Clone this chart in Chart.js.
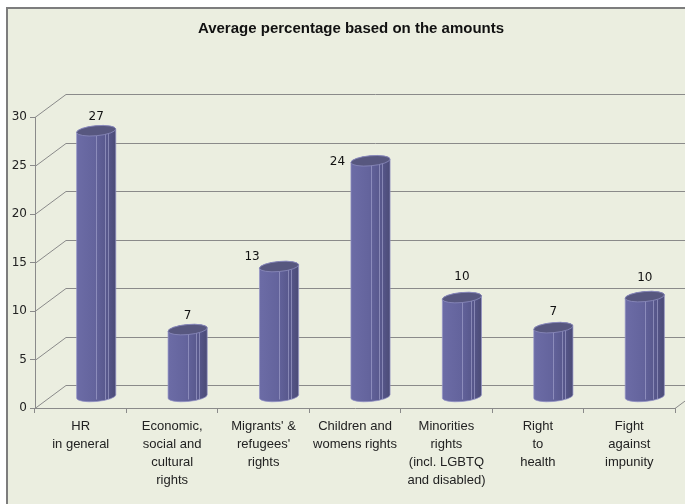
<!DOCTYPE html>
<html>
<head>
<meta charset="utf-8">
<script src="https://cdn.jsdelivr.net/npm/chart.js@4.4.0/dist/chart.umd.min.js"></script>
<style>
    html, body { margin: 0; padding: 0; background: #fff; }
    #wrap { width: 685px; height: 504px; }
</style>
</head>
<body>
<div id="wrap"><canvas id="chart" width="685" height="504"></canvas></div>
<script>
// Categories (multi-line axis labels)
const categories = [
    ['HR', 'in general'],
    ['Economic,', 'social and', 'cultural', 'rights'],
    ["Migrants' &", "refugees'", 'rights'],
    ['Children and', 'womens rights'],
    ['Minorities', 'rights', '(incl. LGBTQ', 'and disabled)'],
    ['Right', 'to', 'health'],
    ['Fight', 'against', 'impunity']
];
// Average percentage per category
const amounts = [27.4, 6.9, 13.4, 24.3, 10.2, 7.1, 10.3];
const yTicks = [0, 5, 10, 15, 20, 25, 30];

const chartTitle = 'Average percentage based on the amounts';

// 3D depth of the back wall (pixels)
const DEPTH_X = 31;
const DEPTH_Y = -23;
const GRID = '#8a8a8a';

// White page, beige chart area with a frame on the left/top
const backdrop = {
    id: 'backdrop',
    beforeDraw(chart) {
        const ctx = chart.ctx;
        ctx.save();
        ctx.fillStyle = '#fff';
        ctx.fillRect(0, 0, chart.width, chart.height);
        ctx.fillStyle = '#ebeee0';
        ctx.fillRect(7, 8, chart.width, chart.height);
        ctx.strokeStyle = '#7d7d7d';
        ctx.lineWidth = 2;
        ctx.beginPath();
        ctx.moveTo(7, chart.height);
        ctx.lineTo(7, 8);
        ctx.lineTo(chart.width, 8);
        ctx.stroke();
        // title
        ctx.fillStyle = '#111';
        ctx.font = 'bold 15px "Liberation Sans", Arial, sans-serif';
        ctx.textAlign = 'center';
        ctx.textBaseline = 'middle';
        ctx.fillText(chartTitle, 351, 29);
        ctx.restore();
    }
};

// Back wall gridlines with slanted side edges
const backWall = {
    id: 'backWall',
    beforeDatasetsDraw(chart) {
        const ctx = chart.ctx;
        const y = chart.scales.y;
        const a = chart.chartArea;
        ctx.save();
        ctx.strokeStyle = GRID;
        ctx.lineWidth = 1;
        yTicks.forEach(t => {
            const py = Math.round(y.getPixelForValue(t)) + 0.5;
            ctx.beginPath();
            ctx.moveTo(a.left, py);
            ctx.lineTo(a.left + DEPTH_X, py + DEPTH_Y);
            ctx.lineTo(chart.width, py + DEPTH_Y);
            ctx.stroke();
        });
        // right end of the floor
        const py0 = Math.round(y.getPixelForValue(0)) + 0.5;
        ctx.beginPath();
        ctx.moveTo(a.right, py0);
        ctx.lineTo(a.right + DEPTH_X, py0 + DEPTH_Y);
        ctx.stroke();
        ctx.restore();
    }
};

// Cylinders drawn at mid depth, plus value labels
const cylinders = {
    id: 'cylinders',
    afterDatasetsDraw(chart, args, opts) {
        const ctx = chart.ctx;
        const y = chart.scales.y;
        const meta = chart.getDatasetMeta(0);
        ctx.save();
        meta.data.forEach((el, i) => {
            const v = amounts[i];
            const w = el.width;
            const cx = el.x + DEPTH_X / 2;
            const rx = w / 2, ry = 5, rot = -0.09;
            const x0 = cx - rx, x1 = cx + rx;
            const yb = y.getPixelForValue(0) + DEPTH_Y / 2;
            const yt = y.getPixelForValue(v) + DEPTH_Y / 2;

            // body
            const g = ctx.createLinearGradient(x0, 0, x1, 0);
            g.addColorStop(0, '#6c6ca6');
            g.addColorStop(0.45, '#64649d');
            g.addColorStop(0.8, '#56568a');
            g.addColorStop(1, '#4b4b76');
            ctx.beginPath();
            ctx.ellipse(cx, yt, rx, ry, rot, Math.PI, 2 * Math.PI, false);
            ctx.ellipse(cx, yb, rx, ry, rot, 0, Math.PI, false);
            ctx.closePath();
            ctx.fillStyle = g;
            ctx.fill();
            ctx.strokeStyle = 'rgba(150,150,200,0.7)';
            ctx.lineWidth = 1;
            ctx.stroke();

            // highlight stripes
            ctx.strokeStyle = 'rgba(175,175,215,0.55)';
            [0.5, 0.72, 0.8].forEach(f => {
                const sx = Math.round(x0 + f * w) + 0.5;
                ctx.beginPath();
                ctx.moveTo(sx, yt + 3);
                ctx.lineTo(sx, yb + 3);
                ctx.stroke();
            });

            // top cap
            ctx.beginPath();
            ctx.ellipse(cx, yt, rx, ry, rot, 0, 2 * Math.PI);
            ctx.fillStyle = '#57577f';
            ctx.fill();
            ctx.strokeStyle = 'rgba(140,140,190,0.8)';
            ctx.stroke();

            // value label
            const nudge = opts.nudge[i] || { dx: 0, dy: -16 };
            ctx.fillStyle = '#111';
            ctx.font = '12px "DejaVu Sans", Verdana, sans-serif';
            ctx.textAlign = 'center';
            ctx.textBaseline = 'middle';
            ctx.fillText(String(Math.round(v)), cx + nudge.dx, yt + nudge.dy);
        });
        ctx.restore();
    }
};

new Chart(document.getElementById('chart'), {
    type: 'bar',
    data: {
        labels: categories,
        datasets: [{
            data: amounts,
            backgroundColor: 'rgba(0,0,0,0)',
            borderWidth: 0,
            barPercentage: 1,
            categoryPercentage: 0.43
        }]
    },
    options: {
        responsive: false,
        animation: false,
        events: [],
        layout: { padding: { top: 117, right: 10, left: 0, bottom: 0 } },
        plugins: {
            legend: { display: false },
            title: { display: false },
            tooltip: { enabled: false },
            cylinders: {
                nudge: {
                    0: { dx: 0, dy: -14 },
                    1: { dx: 0, dy: -14 },
                    2: { dx: -27, dy: -10 },
                    3: { dx: -33, dy: 1 },
                    4: { dx: 0, dy: -21 },
                    5: { dx: 0, dy: -16 },
                    6: { dx: 0, dy: -19 }
                }
            }
        },
        scales: {
            y: {
                min: 0,
                max: 30,
                afterFit: s => { s.width = 35; },
                afterBuildTicks: s => { s.ticks = yTicks.map(v => ({ value: v })); },
                ticks: {
                    color: '#222',
                    padding: 3,
                    font: { family: '"DejaVu Sans", Verdana, sans-serif', size: 12 }
                },
                grid: { drawOnChartArea: false, drawTicks: true, tickLength: 5, color: GRID },
                border: { display: true, color: GRID }
            },
            x: {
                afterFit: s => { s.height = 96; },
                ticks: {
                    color: '#222',
                    padding: 4,
                    maxRotation: 0,
                    autoSkip: false,
                    font: { family: '"Liberation Sans", Arial, sans-serif', size: 13, lineHeight: 1.4 }
                },
                grid: { offset: true, drawOnChartArea: false, drawTicks: true, tickLength: 5, color: GRID },
                border: { display: true, color: GRID }
            }
        }
    },
    plugins: [backdrop, backWall, cylinders]
});
</script>
</body>
</html>
